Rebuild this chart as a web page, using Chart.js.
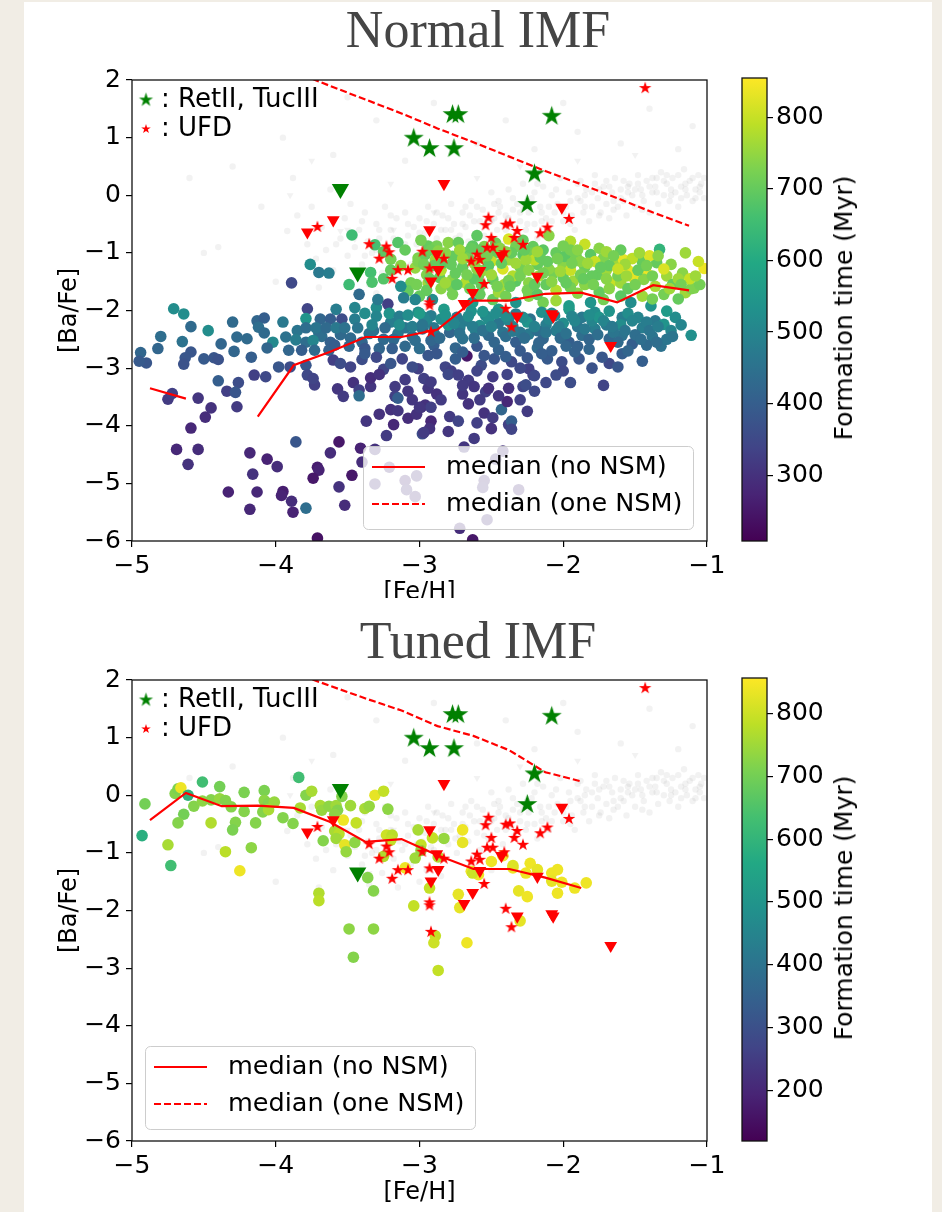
<!DOCTYPE html>
<html>
<head>
<meta charset="utf-8">
<title>[Ba/Fe] vs [Fe/H]</title>
<script src="https://cdn.jsdelivr.net/npm/chart.js@4.4.1/dist/chart.umd.min.js"></script>
<style>
html,body{margin:0;padding:0}
body{width:942px;height:1212px;overflow:hidden;position:relative;background:#f1ede5}
#paper{position:absolute;left:24px;top:2px;width:908px;height:1210px;background:#fff}
.ttl{position:absolute;left:0;width:956px;text-align:center;font-family:'Liberation Serif','Times New Roman',serif;font-size:52px;line-height:60px;color:#454545;white-space:nowrap}
.wrap{position:absolute;overflow:hidden}
canvas{display:block}
.cbl{position:absolute;font-family:'DejaVu Sans',sans-serif;font-size:25px;line-height:28px;white-space:nowrap;color:#000;transform:translate(-50%,-50%) rotate(-90deg)}
</style>
</head>
<body>
<div id="paper"></div>
<div class="ttl" style="top:0px">Normal IMF</div>
<div class="wrap" style="left:24px;top:60px;width:707px;height:538px"><canvas id="cTop" width="707" height="600"></canvas></div>
<div class="wrap" style="left:730px;top:60px;width:200px;height:500px"><canvas id="cbTop" width="200" height="500"></canvas></div>
<div class="cbl" style="left:844px;top:308px">Formation time (Myr)</div>
<div class="ttl" style="top:611px">Tuned IMF</div>
<div class="wrap" style="left:24px;top:660px;width:707px;height:552px"><canvas id="cBot" width="707" height="600"></canvas></div>
<div class="wrap" style="left:730px;top:660px;width:200px;height:500px"><canvas id="cbBot" width="200" height="500"></canvas></div>
<div class="cbl" style="left:844px;top:908px">Formation time (Myr)</div>
<script>
// ---------------- DATA ----------------
const X_TICKS = [-5, -4, -3, -2, -1];
const Y_TICKS = [2, 1, 0, -1, -2, -3, -4, -5, -6];
const CB_TICKS_TOP = [300, 400, 500, 600, 700, 800];
const CB_TICKS_BOT = [200, 300, 400, 500, 600, 700, 800];
const CB_RANGE_TOP = [208, 855];
const CB_RANGE_BOT = [119, 857];
const MARK_LABELS = [': RetII, TucIII', ': UFD'];
const MED_LABELS = ['median (no NSM)', 'median (one NSM)'];

const MED_BINS = [-4.875,-4.625,-4.375,-4.125,-3.875,-3.625,-3.375,-3.125,-2.875,-2.625,-2.375,-2.125,-1.875,-1.625,-1.375,-1.125];
const TOP_MED_SOLID = [-3.35,-3.53,null,-3.84,-2.95,-2.72,-2.46,-2.46,-2.33,-1.83,-1.83,-1.71,-1.69,-1.86,-1.56,-1.65];
const TOP_MED_DASH  = [null,null,null,null,2.15,1.90,1.66,1.42,1.16,0.92,0.67,0.42,0.19,-0.05,-0.30,-0.53];
const BOT_MED_SOLID = [-0.43,0.04,-0.19,-0.18,-0.22,-0.46,-0.81,-0.76,-1.04,-1.28,-1.28,-1.43,-1.61,null,null,null];
const BOT_MED_DASH  = [null,null,null,null,2.13,1.90,1.68,1.47,1.20,1.03,0.78,0.40,0.24,null,null,null];

// observed UFD stars (detections) and upper limits
const UFD_STARS = [[-3.71,-0.55],[-2.52,-0.39],[-2.54,-0.52],[-2.40,-0.51],[-2.37,-0.49],[-2.32,-0.62],[-2.11,-0.56],[-2.16,-0.66],[-1.96,-0.41],[-2.50,-0.74],[-2.34,-0.74],[-2.28,-0.86],[-3.35,-0.85],[-3.23,-0.89],[-3.21,-0.99],[-3.28,-1.10],[-2.98,-0.98],[-2.83,-1.10],[-2.53,-0.91],[-2.49,-0.91],[-2.41,-0.99],[-2.60,-1.03],[-2.64,-1.15],[-2.58,-1.12],[-3.15,-1.30],[-3.08,-1.30],[-2.93,-1.27],[-3.19,-1.45],[-2.55,-1.54],[-2.93,-1.86],[-2.93,-1.91],[-2.40,-1.97],[-2.36,-2.29],[-2.92,-2.37],[-1.43,1.86]];
const UFD_LIMITS = [[-2.83,0.20],[-2.01,-0.21],[-3.60,-0.43],[-3.78,-0.64],[-2.93,-0.60],[-2.88,-1.02],[-2.43,-1.05],[-2.58,-1.31],[-2.87,-1.29],[-2.92,-1.49],[-2.18,-1.41],[-2.63,-1.69],[-2.69,-1.88],[-2.32,-2.10],[-2.08,-2.06],[-2.07,-2.10],[-1.67,-2.61]];
const RET_STARS = [[-2.77,1.40],[-2.73,1.40],[-2.08,1.37],[-3.04,0.99],[-2.93,0.81],[-2.76,0.81],[-2.20,0.37],[-2.25,-0.16]];
const RET_LIMITS = [[-3.55,0.11],[-3.43,-1.34]];

// Milky Way halo background stars (faint grey)
const MW_HALO = [[-3.92,-0.62],[-3.85,-0.35],[-3.88,0.3],[-3.78,-0.85],[-3.75,-0.2],[-3.72,-1.1],[-3.68,-0.55],[-3.65,-0.95],[-3.62,0.1],[-3.6,-1.3],[-3.55,-0.75],[-3.52,-0.4],[-3.5,-1.05],[-3.48,-0.15],[-3.45,-0.9],[-3.42,-0.6],[-3.4,-1.2],[-3.38,-0.3],[-3.36,-0.8],[-3.33,-1.0],[-3.3,-0.5],[-3.28,-0.75],[-3.26,-1.35],[-3.24,-0.2],[-3.22,-0.9],[-3.2,-0.6],[-3.18,-1.1],[-3.16,-0.4],[-3.14,-0.8],[-3.12,-0.95],[-3.1,-0.3],[-3.08,-0.7],[-3.06,-1.2],[-3.04,-0.55],[-3.02,-0.85],[-3.0,-0.4],[-2.98,-1.0],[-2.96,-0.65],[-2.94,-0.2],[-2.92,-0.9],[-2.9,-0.5],[-2.88,-0.75],[-2.86,-1.1],[-2.84,-0.35],[-2.82,-0.6],[-2.8,-0.85],[-2.78,-0.15],[-2.76,-0.5],[-2.74,-1.0],[-2.72,-0.7],[-2.7,-0.3],[-2.68,-0.55],[-2.66,-0.8],[-2.64,-0.1],[-2.62,-0.45],[-2.6,-0.65],[-2.58,-0.95],[-2.56,-0.25],[-2.54,-0.5],[-2.52,-0.75],[-2.5,0.05],[-2.48,-0.4],[-2.46,-0.6],[-2.44,-0.2],[-2.42,-0.85],[-2.4,-0.35],[-2.38,0.1],[-2.36,-0.55],[-2.34,-0.7],[-2.32,-0.15],[-2.3,-0.45],[-2.28,0.2],[-2.26,-0.6],[-2.24,-0.3],[-2.22,-0.05],[-2.2,-0.5],[-2.18,-0.75],[-2.16,-0.2],[-2.14,0.15],[-2.12,-0.4],[-2.1,-0.6],[-2.08,0.0],[-2.06,-0.3],[-2.04,-0.15],[-2.02,0.3],[-2.0,-0.45],[-1.98,-0.2],[-1.96,0.05],[-1.94,-0.35],[-1.92,-0.6],[-1.9,0.2],[-1.88,-0.1],[-1.86,-0.3],[-1.84,0.1],[-1.82,-0.45],[-1.8,-0.2],[-1.78,0.35],[-1.76,-0.05],[-1.74,-0.3],[-1.72,0.15],[-1.7,-0.15],[-1.68,-0.4],[-1.66,0.05],[-1.64,0.3],[-1.62,-0.2],[-1.6,0.1],[-1.58,-0.1],[-1.56,-0.35],[-1.54,0.2],[-1.52,0.0],[-1.5,-0.2],[-1.48,0.35],[-1.46,0.1],[-1.44,-0.1],[-1.42,0.25],[-1.4,-0.3],[-1.38,0.05],[-1.36,0.15],[-1.34,-0.15],[-1.32,0.4],[-1.3,0.0],[-1.28,0.2],[-1.26,-0.1],[-1.24,0.3],[-1.22,0.05],[-1.2,-0.2],[-1.18,0.15],[-1.16,0.45],[-1.14,0.0],[-1.12,0.25],[-1.1,-0.1],[-1.08,0.1],[-1.06,0.35],[-1.04,0.2],[-1.02,-0.05],[-4.3,0.5],[-4.1,-0.2],[-3.95,1.0],[-3.6,0.7],[-3.3,1.3],[-3.1,0.6],[-2.9,1.6],[-2.6,0.9],[-2.4,1.3],[-2.2,0.8],[-1.9,1.1],[-1.6,0.9],[-1.4,1.5],[-1.2,0.8],[-3.7,-1.6],[-3.3,-1.7],[-2.5,-1.3],[-4.5,-1.0],[-4.0,-1.5],[-2.0,1.6],[-1.1,1.2],[-3.5,1.7],[-4.6,0.3],[-4.4,-0.9],[-3.2,-1.45],[-3.0,-1.5],[-2.95,-1.3],[-3.35,-1.55],[-3.15,-1.6],[-2.85,-1.4],[-2.45,-0.1],[-2.35,-0.25],[-2.25,-0.1],[-2.15,-0.3],[-1.95,-0.1],[-1.85,0.0],[-1.75,0.1],[-1.65,-0.1],[-1.55,0.05],[-1.45,0.0],[-1.35,0.3],[-1.25,0.1],[-1.15,0.2],[-1.05,0.05],
[-3.40,-0.45],[-3.30,-0.95],[-3.20,-0.35],[-3.10,-0.85],[-3.00,-0.65],[-2.95,-0.45],[-2.90,-0.95],[-2.85,-0.60],[-2.80,-0.40],[-2.75,-0.75],[-2.70,-0.50],[-2.65,-0.35],[-2.60,-0.20],[-2.55,-0.70],[-2.50,-0.45],[-2.45,-0.30],[-2.40,-0.60],[-2.35,-0.05],[-2.30,-0.30],[-2.25,-0.50],[-2.20,0.05],[-2.15,-0.45],[-2.10,-0.20],[-2.05,0.10],[-2.00,-0.30],[-1.95,-0.50],[-1.90,-0.05],[-1.85,-0.20],[-1.80,0.05],[-1.75,-0.35],[-1.70,0.25],[-1.65,-0.25],[-1.60,-0.05],[-1.55,0.15],[-1.50,0.10],[-1.45,-0.25],[-1.40,0.15],[-1.35,0.05],[-1.30,0.25],[-1.25,0.00],[-1.20,0.35],[-1.15,0.10],[-1.10,0.30],[-1.05,0.15],[-1.02,0.30],[-1.08,-0.05],[-1.18,-0.05],[-1.28,0.35],[-1.38,0.30],[-1.48,0.20],[-1.58,0.25],[-1.68,0.15],[-1.78,0.20],[-1.88,0.25],[-2.08,-0.45],[-2.18,0.20],[-2.28,-0.20],[-2.38,-0.40],[-2.48,-0.15],[-2.58,-0.45],[-2.68,-0.20],[-2.78,-0.60],[-2.88,-0.30],[-2.98,-0.80],[-3.08,-0.50],[-3.18,-0.75],[-3.28,-0.60],[-3.38,-1.05],[-3.48,-0.70],[-3.58,-0.85]];
const MW_LIMITS = [[-3.55,-0.62],[-3.50,-0.60],[-3.45,-0.76],[-3.18,-0.60],[-3.10,-1.25],[-3.35,-1.35],[-2.9,-0.3],[-2.6,0.3],[-2.3,0.5],[-1.9,0.6],[-1.5,0.7],[-3.9,0.0],[-3.75,0.6],[-3.2,0.2]];

// simulated stars: [Fe/H], [Ba/Fe], formation time (Myr)
const TOP_SIM = [
[-3.47,-0.69,650],[-3.31,-0.86,660],[-3.15,-0.82,680],[-3.20,-1.11,720],[-3.34,-1.34,660],[-3.33,-1.51,670],[-3.49,-1.55,650],[-3.13,-1.22,740],[-3.03,-1.26,750],[-3.01,-1.15,730],[-3.06,-1.52,720],[-3.08,-1.66,700],
[-2.38,-0.76,820],[-2.10,-0.70,740],[-1.95,-0.80,780],[-1.33,-0.94,630],[-2.94,-0.88,700],[-2.88,-0.88,720],[-2.80,-0.82,740],[-2.73,-0.82,700],[-2.63,-0.88,690],[-2.55,-0.89,730],[-2.47,-0.83,710],[-2.33,-0.89,720],[-2.21,-0.89,700],[-2.14,-0.95,690],
[-3.01,-1.09,730],[-2.96,-1.03,700],[-2.89,-1.12,760],[-2.77,-1.06,700],[-2.68,-1.00,690],[-2.56,-1.09,740],[-2.47,-1.00,700],[-2.38,-1.12,760],[-2.28,-1.03,690],[-2.21,-1.00,720],[-2.05,-1.00,700],[-1.97,-1.12,750],[-1.91,-1.06,720],[-1.81,-1.03,690],[-1.72,-1.09,730],[-1.63,-1.17,760],[-1.58,-1.12,830],[-1.42,-1.35,840],[-1.35,-1.17,700],[-1.28,-1.40,760],[-1.17,-1.35,740],[-1.09,-1.61,730],
[-3.02,-1.55,720],[-2.94,-1.52,760],[-2.86,-1.43,700],[-2.77,-1.46,740],[-2.68,-1.52,780],[-2.59,-1.40,720],[-2.49,-1.46,700],[-2.41,-1.55,760],[-2.33,-1.49,690],[-2.24,-1.52,740],[-2.17,-1.40,770],[-2.07,-1.35,720],[-2.00,-1.43,700],[-1.93,-1.49,760],[-1.85,-1.55,740],[-1.76,-1.38,700],[-1.67,-1.52,800],[-1.60,-1.52,760],[-1.51,-1.43,830],[-1.44,-1.46,740],[-1.36,-1.58,770],[-1.24,-1.55,700],[-1.15,-1.69,760],[-1.11,-1.62,730],
[-3.00,-1.75,700],[-2.91,-1.81,520],[-2.77,-1.72,720],[-2.63,-1.86,560],[-2.49,-1.81,700],[-2.33,-1.86,540],[-2.24,-1.75,740],[-2.14,-1.86,720],[-2.05,-1.83,760],[-1.96,-1.92,560],[-1.81,-1.86,540],[-1.72,-1.81,720],[-1.53,-1.86,520],[-1.39,-1.92,540],[-1.28,-2.01,560],
[-2.85,-1.30,780],[-2.70,-1.25,700],[-2.55,-1.30,750],[-2.42,-1.28,820],[-2.30,-1.25,720],[-2.18,-1.20,700],[-2.00,-1.22,740],[-1.85,-1.25,710],[-1.70,-1.30,760],[-1.55,-1.30,830],[-1.45,-1.15,700],[-1.25,-1.20,740],[-1.02,-1.27,840],[-1.15,-1.00,760],[-1.40,-1.05,820],[-1.60,-0.95,700],[-1.75,-0.92,740],[-1.85,-0.85,800],[-2.60,-0.70,690],[-2.75,-1.35,700],[-2.95,-1.38,730],[-3.20,-1.30,700],[-3.25,-1.45,680],[-2.65,-1.62,710],[-2.45,-1.68,760],[-2.25,-1.65,720],[-2.05,-1.65,780],[-1.90,-1.70,740],[-1.75,-1.68,700],[-1.45,-1.75,760],[-1.30,-1.72,720],[-1.20,-1.80,700],[-2.85,-1.62,740],[-2.50,-1.15,800],[-2.20,-1.12,790],[-1.95,-1.30,800],[-2.35,-1.40,780],[-2.62,-1.18,760],[-2.82,-1.00,740],[-1.52,-1.10,790],[-1.62,-1.40,720],[-1.12,-1.45,800],[-1.30,-1.28,820],
[-2.92,-0.95,710],[-2.84,-1.18,690],[-2.72,-0.95,760],[-2.66,-1.08,720],[-2.58,-0.95,700],[-2.52,-1.22,690],[-2.44,-0.92,740],[-2.36,-1.00,700],[-2.26,-1.12,760],[-2.16,-1.08,700],[-2.10,-1.28,740],[-1.99,-1.06,690],[-1.88,-1.15,740],[-1.80,-1.40,700],[-1.78,-1.15,800],[-1.68,-1.22,700],[-1.57,-1.20,760],[-1.48,-1.30,700],[-1.38,-1.40,720],[-1.20,-1.45,760],[-1.05,-1.55,720],[-2.90,-1.22,700],[-2.62,-1.45,690],[-2.38,-1.48,720],[-2.12,-1.55,700],[-1.88,-1.38,720],[-1.68,-1.62,740],[-1.55,-1.62,700],[-2.58,-1.72,700],[-2.40,-1.75,720],[-2.18,-1.72,690],[-1.95,-1.60,720],[-1.38,-1.80,720],[-1.60,-1.75,690],[-2.95,-1.65,700],[-2.78,-1.58,720],[-3.10,-0.95,700],[-3.25,-0.98,690],[-2.99,-0.78,720],[-1.70,-0.98,760],[-1.95,-0.95,720],[-2.28,-0.78,700],[-2.00,-0.88,720],
[-2.97,-1.20,720],[-2.93,-1.45,700],[-2.87,-0.97,740],[-2.82,-1.52,760],[-2.78,-1.20,700],[-2.74,-1.55,690],[-2.70,-1.10,760],[-2.67,-1.38,720],[-2.64,-0.92,700],[-2.60,-1.28,740],[-2.57,-1.55,700],[-2.53,-1.05,720],[-2.50,-1.38,760],[-2.46,-1.58,720],[-2.43,-1.18,700],[-2.40,-0.98,740],[-2.37,-1.58,700],[-2.33,-1.18,760],[-2.30,-1.40,720],[-2.27,-0.95,700],[-2.24,-1.30,740],[-2.20,-1.55,700],[-2.18,-0.98,760],[-2.14,-1.35,720],[-2.11,-1.15,700],[-2.08,-1.50,740],[-2.04,-1.10,720],[-2.02,-1.32,760],[-1.98,-1.52,700],[-1.94,-1.18,720],[-1.90,-0.95,740],[-1.86,-1.45,700],[-1.83,-1.18,760],[-1.79,-1.55,720],[-1.74,-1.25,700],[-1.70,-1.45,740],[-1.65,-1.05,720],[-1.62,-1.28,800],[-1.56,-1.40,760],[-1.50,-1.55,720],[-1.47,-1.00,760],[-1.42,-1.22,720],[-1.34,-1.05,740],[-1.26,-1.62,760],[-1.18,-1.55,720],[-1.08,-1.40,760],[-1.06,-1.15,800],
[-3.01,-2.03,520],[-2.92,-2.09,480],[-2.83,-1.98,560],[-2.74,-2.12,470],[-2.64,-2.01,540],[-2.54,-2.09,500],[-2.45,-1.98,560],[-2.33,-2.06,480],[-2.23,-2.15,450],[-2.15,-2.03,530],[-2.06,-2.09,500],[-1.96,-1.98,560],[-1.87,-2.12,470],[-1.78,-2.03,520],[-1.68,-2.01,540],[-1.59,-2.12,480],[-1.48,-2.12,500],[-1.36,-2.18,470],[-1.30,-2.24,540],[-1.11,-2.43,530],
[-2.98,-2.32,440],[-2.89,-2.43,470],[-2.79,-2.38,420],[-2.70,-2.49,450],[-2.61,-2.35,490],[-2.52,-2.43,430],[-2.42,-2.38,460],[-2.33,-2.55,400],[-2.24,-2.41,470],[-2.14,-2.49,420],[-2.05,-2.35,480],[-1.96,-2.55,400],[-1.87,-2.43,440],[-1.78,-2.32,480],[-1.68,-2.49,420],[-1.59,-2.43,450],[-1.52,-2.58,400],
[-3.01,-3.01,330],[-2.94,-2.78,380],[-2.82,-2.98,340],[-2.75,-2.84,400],[-2.67,-2.79,250],[-2.57,-2.95,360],[-2.48,-2.84,380],[-2.36,-2.89,350],[-2.24,-3.01,330],[-2.11,-2.84,390],[-2.01,-2.89,360],[-1.89,-2.84,380],[-1.82,-2.67,420],[-1.68,-2.92,350],[-1.59,-2.75,400],[-1.73,-2.81,380],
[-2.95,-2.20,500],[-2.80,-2.25,540],[-2.68,-2.18,480],[-2.58,-2.26,520],[-2.45,-2.22,460],[-2.35,-2.28,500],[-2.25,-2.20,540],[-2.12,-2.25,480],[-2.00,-2.22,520],[-1.90,-2.28,460],[-1.80,-2.18,500],[-1.70,-2.25,470],[-1.60,-2.25,520],[-1.45,-2.30,480],[-1.38,-2.45,460],[-1.25,-2.35,500],[-1.42,-2.60,430],[-1.32,-2.62,450],[-2.90,-2.60,400],[-2.75,-2.65,420],[-2.60,-2.62,380],[-2.45,-2.68,410],[-2.30,-2.70,390],[-2.18,-2.65,430],[-2.08,-2.70,400],[-1.92,-2.72,410],
[-3.45,-2.15,480],[-3.35,-2.40,450],[-3.25,-2.50,430],[-3.15,-2.40,470],[-3.05,-2.45,450],[-2.92,-2.52,420],[-2.85,-2.15,520],[-2.72,-2.30,480],[-2.62,-2.48,440],[-2.52,-2.15,520],[-2.48,-2.55,420],[-2.38,-2.18,500],[-2.30,-2.38,460],[-2.18,-2.35,440],[-2.10,-2.15,500],[-2.02,-2.48,430],[-1.92,-2.18,500],[-1.82,-2.50,420],[-1.75,-2.12,540],[-1.65,-2.38,460],[-1.55,-2.05,520],[-1.50,-2.42,440],[-1.42,-2.20,480],[-1.22,-2.12,520],[-1.28,-2.50,460],[-2.88,-2.75,380],[-2.70,-2.72,400],[-2.55,-2.78,380],[-2.40,-2.80,400],[-2.25,-2.82,380],[-2.15,-2.75,400],[-1.98,-2.62,420],[-3.48,-2.48,430],[-3.68,-2.45,440],[-3.85,-2.35,460],[-3.95,-2.20,470],[-4.30,-2.20,430],[-4.38,-2.58,420],[-4.80,-2.45,440],[-3.45,-1.95,500],[-3.58,-1.98,480],[-3.30,-1.95,520],[-3.20,-2.20,480],[-3.40,-2.85,360],[-3.48,-2.98,340],[-3.25,-3.02,340],[-2.78,-3.05,330],[-2.60,-3.05,340],[-2.30,-3.00,350],[-2.00,-3.05,350],[-1.80,-3.00,370],[-1.62,-2.98,380],[-1.45,-2.88,400],[-1.35,-2.55,440],[-1.55,-2.70,420],
[-2.97,-2.12,500],[-2.90,-2.30,470],[-2.86,-2.48,430],[-2.82,-2.08,540],[-2.76,-2.22,500],[-2.72,-2.40,450],[-2.66,-2.10,520],[-2.63,-2.28,480],[-2.56,-2.35,450],[-2.56,-2.02,540],[-2.50,-2.28,490],[-2.47,-2.05,520],[-2.40,-2.45,440],[-2.40,-2.10,520],[-2.35,-2.36,470],[-2.28,-2.12,520],[-2.27,-2.48,440],[-2.20,-2.28,490],[-2.17,-2.56,420],[-2.12,-2.38,460],[-2.08,-2.05,520],[-2.03,-2.28,480],[-1.98,-2.40,450],[-1.94,-2.10,500],[-1.90,-2.62,410],[-1.85,-2.32,470],[-1.82,-2.08,520],[-1.76,-2.42,440],[-1.72,-2.18,500],[-1.66,-2.28,470],[-1.62,-2.55,430],[-1.57,-2.35,460],[-1.52,-2.18,500],[-1.46,-2.50,440],[-1.40,-2.35,460],[-1.34,-2.28,480],[-1.24,-2.45,460],[-1.18,-2.25,500],[-3.40,-2.55,420],[-3.32,-2.35,450],[-3.18,-2.50,430],[-3.10,-2.30,460],[-3.03,-2.52,440],[-3.55,-2.42,430],[-3.62,-2.55,410],[-3.70,-2.40,440],
[-3.76,-1.20,520],[-3.70,-1.34,470],[-3.63,-1.35,480],[-3.89,-1.52,350],[-3.42,-1.72,430],[-3.29,-1.81,470],[-3.13,-1.58,520],[-3.22,-1.89,330],[-3.11,-1.78,480],[-3.03,-1.81,500],[-3.78,-1.97,340],[-3.79,-2.14,540],[-4.71,-1.97,520],[-4.64,-2.06,520],[-4.59,-2.28,430],[-4.47,-2.35,520],[-4.65,-2.54,450],[-4.82,-2.66,420],[-4.94,-2.73,420],[-4.90,-2.91,380],[-4.95,-2.88,390],[-4.59,-2.72,380],[-4.63,-2.82,380],[-4.64,-2.93,370],[-4.50,-2.84,390],[-4.43,-2.82,380],[-4.40,-2.85,370],[-4.29,-2.71,420],[-4.17,-2.81,400],[-4.27,-2.46,430],[-4.20,-2.49,430],[-4.13,-2.18,420],[-4.08,-2.13,400],[-4.12,-2.29,440],[-4.08,-2.39,430],[-4.02,-2.55,510],[-4.06,-2.65,420],[-3.93,-2.46,450],[-3.86,-2.51,480],[-3.79,-2.55,440],[-3.74,-2.52,500],[-3.91,-2.69,420],[-3.82,-2.69,400],[-3.73,-2.69,430],[-3.63,-2.69,410],[-3.98,-2.98,380],[-3.90,-2.98,360],[-3.79,-2.95,380],[-3.69,-2.15,420],[-3.62,-2.15,400],[-3.54,-2.15,360],[-3.79,-2.30,440],[-3.72,-2.30,460],[-3.65,-2.30,430],[-3.58,-2.30,470],[-3.52,-2.30,450],[-3.38,-2.05,520],[-3.30,-2.10,500],[-3.21,-2.05,540],[-3.14,-2.10,480],[-3.08,-2.08,520],[-3.00,-2.05,560],[-3.43,-2.30,460],[-3.33,-2.25,500],[-3.24,-2.30,430],[-3.14,-2.25,520],[-3.05,-2.28,480],[-2.98,-2.25,460],[-3.59,-2.60,400],[-3.49,-2.62,420],[-3.38,-2.66,380],[-3.28,-2.66,420],[-3.19,-2.66,400],[-3.10,-2.62,430],[-3.00,-2.66,440],[-3.60,-2.86,330],[-3.55,-2.92,360],[-3.38,-2.75,390],[-3.30,-2.81,350],[-3.20,-2.92,380],[-3.12,-2.84,340],[-3.05,-2.98,360],
[-4.40,-3.22,400],[-4.34,-3.40,330],[-4.26,-3.25,360],[-4.28,-3.42,380],[-4.27,-3.67,320],[-4.75,-3.54,320],[-4.72,-3.44,330],[-4.54,-3.52,310],[-4.45,-3.69,300],[-4.49,-3.85,290],[-4.59,-4.04,280],[-4.69,-4.41,280],[-4.54,-4.41,290],[-4.61,-4.67,300],[-4.18,-4.47,280],[-4.06,-4.58,270],[-3.99,-4.71,290],[-4.16,-4.84,300],[-4.33,-5.15,270],[-4.13,-5.15,280],[-3.95,-5.14,260],[-3.96,-5.21,270],[-3.89,-5.31,290],[-4.18,-5.45,280],[-3.88,-5.50,270],[-3.79,-5.43,440],[-3.86,-4.28,380],[-3.71,-5.95,240],[-3.62,-4.47,290],[-3.56,-4.28,250],[-3.71,-4.72,260],[-3.70,-4.77,270],[-3.74,-4.91,250],[-3.56,-5.06,300],[-3.52,-5.38,290],[-3.47,-4.86,250],[-3.41,-4.39,270],[-3.40,-4.63,290],[-3.37,-3.92,310],[-3.28,-3.80,300],[-3.23,-4.17,320],[-3.18,-3.98,280],[-3.20,-3.72,300],[-3.15,-3.74,310],[-3.08,-3.87,290],[-3.02,-3.80,300],[-3.57,-3.36,310],[-3.53,-3.49,320],[-3.46,-3.25,300],[-3.42,-3.38,330],[-3.42,-3.48,440],[-3.73,-3.29,330],[-3.78,-3.12,350],[-3.74,-3.18,340],[-4.07,-3.15,350],[-4.15,-3.12,330],[-3.34,-3.32,310],[-3.34,-3.17,290],[-3.28,-3.11,300],[-3.17,-3.32,320],[-3.17,-3.49,330],[-3.15,-3.52,400],[-3.08,-3.40,310],[-2.98,-4.14,360],[-2.99,-3.68,300],
[-1.72,-3.30,340],[-2.97,-3.18,330],[-2.94,-3.35,310],[-2.92,-3.24,320],[-2.96,-3.64,300],[-2.92,-3.68,330],[-3.00,-3.68,310],[-2.92,-3.92,280],[-2.93,-4.05,300],[-2.97,-4.12,320],[-2.80,-3.11,350],[-2.73,-3.12,330],[-2.66,-3.21,320],[-2.62,-3.32,310],[-2.54,-3.41,330],[-2.52,-3.35,300],[-2.49,-3.15,320],[-2.39,-3.11,340],[-2.38,-3.35,300],[-2.28,-3.32,340],[-2.26,-3.29,360],[-2.21,-3.12,330],[-2.20,-3.13,350],[-2.79,-3.84,320],[-2.73,-3.92,340],[-2.55,-3.78,300],[-2.49,-3.86,320],[-2.43,-3.72,420],[-2.39,-3.58,280],[-2.38,-3.98,330],[-2.36,-3.92,400],[-2.36,-4.06,340],[-2.62,-4.22,320],[-2.69,-4.37,310],
[-3.10,-3.20,320],[-2.88,-3.45,300],[-2.85,-3.55,320],[-2.70,-3.45,310],[-2.66,-3.62,300],[-2.58,-3.55,320],[-2.45,-3.48,310],[-2.30,-3.55,330],[-2.20,-3.40,350],[-2.70,-3.30,320],[-3.05,-3.55,310],[-2.50,-4.05,300],[-2.80,-4.10,310],[-2.60,-3.95,330],[-2.25,-3.75,320],[-2.12,-3.25,350],[-2.05,-3.12,360],[-1.95,-3.25,360],
[-2.42,-4.44,300],[-2.47,-4.58,310],[-2.55,-4.95,290],[-2.56,-5.07,300],[-2.31,-5.11,290],[-2.53,-5.63,300],[-2.72,-5.78,290],[-2.63,-5.98,250],[-3.31,-4.41,300],[-3.21,-4.72,290],[-3.31,-5.01,300],[-3.10,-4.95,280],[-3.02,-4.87,300],[-3.09,-5.11,300],[-3.03,-5.23,290]
];

const BOT_SIM = [
[-4.91,-0.15,700],[-4.93,-0.70,580],[-4.75,-0.86,760],[-4.73,-1.22,630],[-4.70,0.03,720],[-4.68,0.11,710],[-4.66,0.13,840],[-4.61,0.00,590],[-4.64,-0.33,700],[-4.68,-0.48,720],[-4.57,-0.19,720],[-4.51,0.23,630],[-4.51,-0.10,730],[-4.45,-0.08,720],[-4.39,-0.06,740],[-4.35,-0.09,720],[-4.39,0.15,700],[-4.45,-0.48,770],[-4.31,-0.20,720],[-4.28,-0.47,720],[-4.30,-0.60,710],[-4.35,-0.98,780],[-4.25,-1.31,840],[-4.22,0.05,710],[-4.22,-0.28,720],[-4.17,-0.91,730],[-4.14,-0.48,720],[-4.08,0.08,710],[-4.08,-0.09,730],[-4.05,-0.14,720],[-4.01,-0.12,740],[-4.09,-0.29,720],[-4.05,-0.25,760],[-3.95,-0.39,720],[-3.88,-0.49,720],[-3.84,0.31,630],[-3.83,-0.22,760],[-3.79,0.00,720],[-3.75,0.07,760],[-3.69,-0.18,760],[-3.68,-0.26,740],[-3.63,-0.19,730],[-3.58,-0.18,750],[-3.57,-0.26,720],[-3.59,-0.33,730],[-3.54,-0.02,720],[-3.48,-0.18,750],[-3.53,-0.43,840],[-3.59,-0.62,760],[-3.56,-0.67,780],[-3.58,-0.75,750],[-3.52,-0.86,830],[-3.51,-0.98,740],[-3.67,-0.79,720],[-3.44,-0.48,790],[-3.45,-0.82,730],[-3.38,-0.23,760],[-3.35,-0.19,740],[-3.31,0.00,830],[-3.25,0.07,790],[-3.22,-0.24,730],[-3.23,-0.69,800],[-3.19,-0.69,780],[-3.20,-0.78,790],[-3.25,-1.06,770],[-3.36,-1.43,720],[-3.32,-1.66,720],[-3.70,-1.70,770],[-3.70,-1.83,780],[-3.49,-2.32,730],[-3.32,-2.32,730],[-3.46,-2.81,720],[-3.04,-1.92,790],[-3.03,-1.09,750],[-3.01,-0.60,760],[-2.99,-0.86,790],[-2.91,-0.74,790],[-2.83,-0.75,740],[-2.70,-0.60,840],[-2.70,-0.82,830],[-2.93,-1.61,790],[-2.89,-2.44,790],[-2.90,-2.56,800],[-2.87,-3.04,790],[-2.73,-1.72,830],[-2.72,-1.95,830],[-2.67,-2.56,840],[-2.64,-1.32,840],[-2.59,-1.38,840],[-2.50,-1.15,840],[-2.35,-1.26,840],[-2.31,-1.66,830],[-2.25,-1.76,840],[-2.30,-2.18,830],[-2.26,-1.35,840],[-2.23,-1.18,840],[-2.18,-1.29,830],[-2.08,-1.35,840],[-2.04,-1.29,840],[-2.08,-1.49,830],[-2.01,-1.51,840],[-2.04,-1.70,840],[-1.92,-1.61,840],[-1.84,-1.52,840],[-3.10,-1.26,840],[-2.99,-0.96,740],[-2.87,-1.07,770],[-2.42,-1.05,840],[-2.63,-1.35,800],[-2.35,-1.22,820]
];

// ---------------- STYLE HELPERS ----------------
const FF = "'DejaVu Sans', sans-serif";
Chart.defaults.font.family = FF;
Chart.defaults.color = '#000';
const VIRIDIS = ['#440154','#482475','#414487','#355f8d','#2a788e','#21918c','#22a884','#44bf70','#7ad151','#bddf26','#fde725'];
function hexRgb(h){return [parseInt(h.slice(1,3),16),parseInt(h.slice(3,5),16),parseInt(h.slice(5,7),16)];}
function viridis(f){
  f = Math.max(0, Math.min(1, f));
  const n = VIRIDIS.length - 1;
  const i = Math.min(n - 1, Math.floor(f * n));
  const t = f * n - i;
  const a = hexRgb(VIRIDIS[i]), b = hexRgb(VIRIDIS[i + 1]);
  return 'rgb(' + a.map((v, k) => Math.round(v + (b[k] - v) * t)).join(',') + ')';
}
function fmt(v){ return v < 0 ? '\u2212' + Math.abs(v) : String(v); }
function starImage(color, R){
  const r = R * 0.382, s = Math.ceil(R * 2 + 2);
  const c = document.createElement('canvas'); c.width = s; c.height = s;
  const g = c.getContext('2d'); g.fillStyle = color; g.beginPath();
  for (let i = 0; i < 10; i++){
    const a = -Math.PI / 2 + i * Math.PI / 5, rr = (i % 2) ? r : R;
    g.lineTo(s / 2 + rr * Math.cos(a), s / 2 + rr * Math.sin(a));
  }
  g.closePath(); g.fill(); return c;
}
const G_STAR = starImage('#008000', 10.5);
const R_STAR = starImage('#ff0000', 6.6);
const LEG_G_STAR = starImage('#008000', 7.4);
const LEG_R_STAR = starImage('#ff0000', 5);
const xy = arr => arr.map(p => ({x: p[0], y: p[1]}));
const medData = arr => MED_BINS.map((x, i) => ({x: x, y: arr[i]}));

const framePlugin = { id: 'frame', afterDraw(chart){
  const a = chart.chartArea, c = chart.ctx; c.save();
  c.strokeStyle = '#111'; c.lineWidth = 1.3;
  c.strokeRect(a.left, a.top, a.right - a.left, a.bottom - a.top); c.restore();
}};

const legendsPlugin = { id: 'legends', afterDatasetsDraw(chart, args, o){
  const a = chart.chartArea, c = chart.ctx; c.save();
  c.font = "26px 'DejaVu Sans'"; c.textBaseline = 'middle'; c.textAlign = 'left'; c.fillStyle = '#000';
  c.drawImage(LEG_G_STAR, a.left + 14 - LEG_G_STAR.width / 2, a.top + 20 - LEG_G_STAR.height / 2);
  c.fillText(MARK_LABELS[0], a.left + 29, a.top + 20);
  c.drawImage(LEG_R_STAR, a.left + 14 - LEG_R_STAR.width / 2, a.top + 49 - LEG_R_STAR.height / 2);
  c.fillText(MARK_LABELS[1], a.left + 29, a.top + 49);
  const W = 330, H = 83;
  const bx = o.right ? a.right - 14 - W : a.left + 13;
  const by = a.bottom - 12 - H;
  c.beginPath(); c.roundRect(bx + 0.5, by + 0.5, W, H, 5);
  c.fillStyle = 'rgba(255,255,255,0.8)'; c.fill();
  c.strokeStyle = 'rgba(200,200,200,0.9)'; c.lineWidth = 1; c.stroke();
  c.strokeStyle = '#ff0000'; c.lineWidth = 2.2;
  c.beginPath(); c.moveTo(bx + 9, by + 21); c.lineTo(bx + 62, by + 21); c.stroke();
  c.setLineDash([7, 3]);
  c.beginPath(); c.moveTo(bx + 9, by + 58); c.lineTo(bx + 62, by + 58); c.stroke();
  c.setLineDash([]);
  c.font = "25.5px 'DejaVu Sans'"; c.fillStyle = '#000';
  c.fillText(MED_LABELS[0], bx + 83, by + 21);
  c.fillText(MED_LABELS[1], bx + 83, by + 58);
  c.restore();
}};

function axisCommon(){
  return {
    grid: {display: true, drawOnChartArea: false, drawTicks: true, tickLength: 6, color: '#000', lineWidth: 1.2},
    border: {display: false}
  };
}

function scatterChart(id, sim, range, medSolid, medDash, legendRight){
  const [tMin, tMax] = range;
  const colors = sim.map(p => viridis((p[2] - tMin) / (tMax - tMin)));
  const grey = 'rgba(105,105,105,0.085)';
  new Chart(document.getElementById(id), {
    type: 'scatter',
    data: { datasets: [
      {data: xy(MW_HALO), pointRadius: 3.2, pointBorderWidth: 0, pointBackgroundColor: grey, backgroundColor: grey, order: 10, clip: 0},
      {data: xy(MW_LIMITS), pointStyle: 'triangle', pointRotation: 180, pointRadius: 4, pointBorderWidth: 0, pointBackgroundColor: grey, backgroundColor: grey, order: 10, clip: 0},
      {data: xy(sim), pointRadius: 5.8, pointBorderWidth: 0, pointBackgroundColor: colors, backgroundColor: colors, order: 8, clip: 0},
      {data: medData(medSolid), showLine: true, spanGaps: false, pointRadius: 0, borderColor: '#ff0000', borderWidth: 2.2, fill: false, order: 6, clip: 0},
      {data: medData(medDash), showLine: true, spanGaps: false, pointRadius: 0, borderColor: '#ff0000', borderWidth: 2.2, borderDash: [7, 3], fill: false, order: 6, clip: 0},
      {data: xy(UFD_STARS), pointStyle: R_STAR, order: 4, clip: 0},
      {data: xy(UFD_LIMITS), pointStyle: 'triangle', pointRotation: 180, pointRadius: 7.4, pointBorderWidth: 0, pointBackgroundColor: '#ff0000', backgroundColor: '#ff0000', order: 3, clip: 0},
      {data: xy(RET_STARS), pointStyle: G_STAR, order: 2, clip: 0},
      {data: xy(RET_LIMITS), pointStyle: 'triangle', pointRotation: 180, pointRadius: 10, pointBorderWidth: 0, pointBackgroundColor: '#008000', backgroundColor: '#008000', order: 1, clip: 0}
    ]},
    options: {
      responsive: false, animation: false, events: [],
      layout: {padding: {left: 0, right: 24, top: 15, bottom: 49}},
      plugins: {legend: {display: false}, tooltip: {enabled: false}, legends: {right: legendRight}},
      scales: {
        x: Object.assign(axisCommon(), {
          type: 'linear', min: -5, max: -1,
          afterBuildTicks: s => { s.ticks = X_TICKS.map(v => ({value: v})); },
          afterFit: s => { s.height = 70; },
          ticks: {autoSkip: false, maxRotation: 0, padding: 4, font: {size: 25}, color: '#000', callback: v => fmt(v)},
          title: {display: true, text: '[Fe/H]', font: {size: 24}, color: '#000', padding: {top: 0, bottom: 4}}
        }),
        y: Object.assign(axisCommon(), {
          type: 'linear', min: -6, max: 2,
          afterBuildTicks: s => { s.ticks = Y_TICKS.map(v => ({value: v})); },
          afterFit: s => { s.width = 108; },
          ticks: {autoSkip: false, padding: 5, font: {size: 25}, color: '#000', callback: v => fmt(v)},
          title: {display: true, text: '[Ba/Fe]', font: {size: 24}, color: '#000', padding: {top: 31.6, bottom: 0}}
        })
      }
    },
    plugins: [framePlugin, legendsPlugin]
  });
}

function colorbar(id, range, ticks){
  const [tMin, tMax] = range;
  new Chart(document.getElementById(id), {
    type: 'bar',
    data: {labels: [''], datasets: [{
      data: [[tMin, tMax]], borderWidth: 0, barPercentage: 1, categoryPercentage: 1,
      backgroundColor: ctx => {
        const ch = ctx.chart, a = ch.chartArea;
        if (!a) return '#888';
        const g = ch.ctx.createLinearGradient(0, a.bottom, 0, a.top);
        VIRIDIS.forEach((c, i) => g.addColorStop(i / (VIRIDIS.length - 1), c));
        return g;
      }
    }]},
    options: {
      responsive: false, animation: false, events: [],
      layout: {padding: {left: 12, right: 63, top: 15, bottom: 19}},
      plugins: {legend: {display: false}, tooltip: {enabled: false}},
      scales: {
        x: {display: false},
        y: Object.assign(axisCommon(), {
          position: 'right', min: tMin, max: tMax,
          afterBuildTicks: s => { s.ticks = ticks.map(v => ({value: v})); },
          afterFit: s => { s.width = 100; },
          ticks: {autoSkip: false, padding: 3, font: {size: 25}, color: '#000'}
        })
      }
    },
    plugins: [framePlugin]
  });
}

scatterChart('cTop', TOP_SIM, CB_RANGE_TOP, TOP_MED_SOLID, TOP_MED_DASH, true);
scatterChart('cBot', BOT_SIM, CB_RANGE_BOT, BOT_MED_SOLID, BOT_MED_DASH, false);
colorbar('cbTop', CB_RANGE_TOP, CB_TICKS_TOP);
colorbar('cbBot', CB_RANGE_BOT, CB_TICKS_BOT);
</script>
</body>
</html>
